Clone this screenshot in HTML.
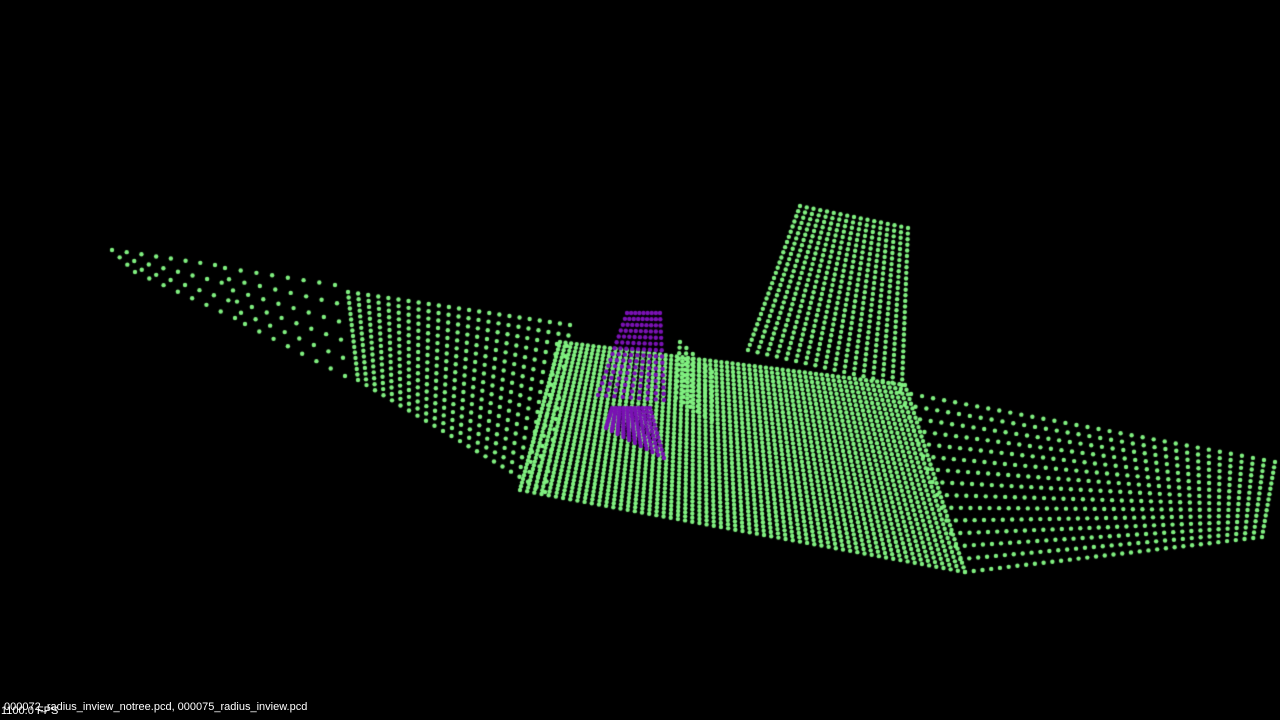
<!DOCTYPE html>
<html><head><meta charset="utf-8"><style>
html,body{margin:0;padding:0;background:#000;width:1280px;height:720px;overflow:hidden}
#c{position:absolute;left:0;top:0}
.t{position:absolute;font-family:"Liberation Sans",sans-serif;font-size:11px;color:#fff;white-space:nowrap}
</style></head><body>
<canvas id="c" width="1280" height="720"></canvas>
<div class="t" style="left:1px;top:705px;font-size:11px">1100.0 FPS</div>
<div class="t" style="left:4px;top:701px">000072_radius_inview_notree.pcd, 000075_radius_inview.pcd</div>
<script>
// patch corners: [tlx,tly,trx,try,brx,bry,blx,bly]
const patchCorners=[
 [112,250,215,265,235,318,135,272],
 [225,268,335,285,345,376,245,324],
 [348,292,570,325,545,492,358,380],
 [560,342,905,385,965,572,520,490],
 [900,392,1275,462,1262,537,965,572],
 [800,206,908,228,902,385,748,350],
 [680,342,712,372,712,420,676,398],
 [627,313,660,313,664,400,598,395],
 [612,408,650,408,664,458,606,428]
];
const patchRows=[3,5,16,40,14,28,10,14,12];
const patchCols=[7,7,22,62,34,16,5,8,10];
const patchColors=["#80f080","#80f080","#80f080","#80f080","#80f080","#80f080","#80f080","#7a12b4","#7a12b4"];
const ctx=document.getElementById('c').getContext('2d');
function lerp(a,b,t){return a+(b-a)*t}
patchCorners.forEach((p,i)=>{
 ctx.fillStyle=patchColors[i];
 const R=patchRows[i],C=patchCols[i];
 for(let r=0;r<=R;r++){const v=r/R;
  for(let c=0;c<=C;c++){const u=c/C;
   const x=lerp(lerp(p[0],p[2],u),lerp(p[6],p[4],u),v);
   const y=lerp(lerp(p[1],p[3],u),lerp(p[7],p[5],u),v);
   ctx.beginPath();ctx.arc(x,y,2.2,0,Math.PI*2);ctx.fill();
  }}
});
</script>
</body></html>
